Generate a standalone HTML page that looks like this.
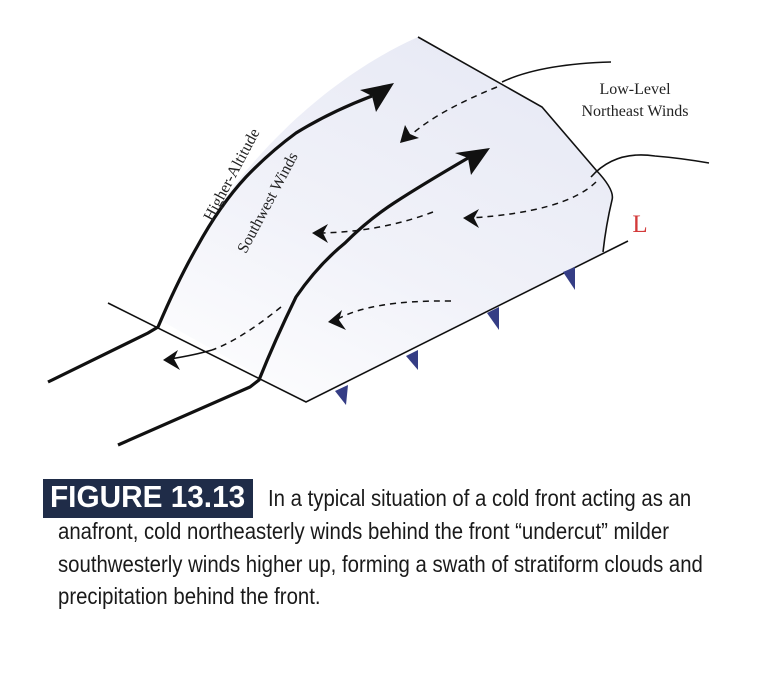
<!DOCTYPE html>
<html><head><meta charset="utf-8"><style>
html,body{margin:0;padding:0;background:#fff;}
body{width:768px;height:688px;position:relative;overflow:hidden;}
svg{position:absolute;left:0;top:0;}
.cap{position:absolute;font-family:"Liberation Sans",sans-serif;font-size:23px;color:#1a1a1a;white-space:nowrap;transform-origin:0 0;transform:scaleX(0.885);}
.box{position:absolute;left:43px;top:479px;width:210px;height:39px;background:#1f2c48;}
.fig{position:absolute;left:50px;top:479px;font-family:"Liberation Sans",sans-serif;font-weight:bold;font-size:31px;color:#fff;white-space:nowrap;transform-origin:0 0;transform:scaleX(0.96);}
</style></head><body>
<svg width="768" height="688" viewBox="0 0 768 688">
<defs>
<linearGradient id="g" x1="0" y1="1" x2="0.6" y2="0">
<stop offset="0" stop-color="#fff"/><stop offset="0.5" stop-color="#f1f2f9"/><stop offset="1" stop-color="#e8eaf5"/>
</linearGradient>
</defs>
<path d="M160,320 L197,247 C215,200 300,90 418,37 L542,107 L596,170 L613,193 C606,220 605,240 603,252 L628,241 L306,402 Z" fill="url(#g)"/>
<g fill="none" stroke="#111" stroke-width="1.6">
<path d="M418,37 L542,107 L596,170 Q615,190 612,200 Q606,225 603,252"/>
<path d="M628,241 L306,402 L108,303"/>
<path d="M502,82 Q540,64 611,62"/>
<path d="M591,177 Q615,150 655,156 Q680,158 709,163"/>
</g>
<g fill="none" stroke="#111" stroke-width="3.2">
<path d="M48,382 L148,333 L158,327 Q178,280 197,247 Q220,205 246,177 Q270,152 296,133 Q330,112 372,96"/>
<path d="M118,445 L250,387 L259,380 Q275,340 296,297 Q318,265 345,243 Q368,220 394,203 Q420,186 468,158"/>
</g>
<path d="M394,83 L360,90 L372,96 L376,112 Z" fill="#111"/>
<path d="M490,148 L455,153 L468,158 L471,175 Z" fill="#111"/>
<g fill="none" stroke="#111" stroke-width="1.5" stroke-dasharray="6,5">
<path d="M497,87 Q440,110 412,134"/>
<path d="M596,182 Q565,212 470,218"/>
<path d="M433,212 Q380,232 320,233"/>
<path d="M451,301 Q370,300 336,320"/>
<path d="M281,307 Q240,340 212,350"/>
</g>
<path d="M212,350 Q195,355 170,359" fill="none" stroke="#111" stroke-width="1.5"/>
<g fill="#111">
<path d="M400,143 L405,125 L410,134 L419,138 Z"/>
<path d="M463,218 L479,209 L474,218 L479,228 Z"/>
<path d="M312,233 L328,224 L323,233 L328,243 Z"/>
<path d="M328,322 L342,310 L339,320 L346,330 Z"/>
<path d="M163,360 L178,350 L174,359 L180,370 Z"/>
</g>
<g fill="#353d85">
<path d="M563,272 L575,267 L575,290 Z"/>
<path d="M487,313 L499,307 L499,330 Z"/>
<path d="M406,356 L418,350 L418,370 Z"/>
<path d="M335,391 L348,385 L346,405 Z"/>
</g>
<g font-family="Liberation Serif,serif" font-size="16" fill="#222">
<text x="236" y="177" text-anchor="middle" transform="rotate(-62 236 177)">Higher-Altitude</text>
<text x="272" y="205" text-anchor="middle" transform="rotate(-62 272 205)">Southwest Winds</text>
<text x="635" y="94" text-anchor="middle">Low-Level</text>
<text x="635" y="116" text-anchor="middle">Northeast Winds</text>
<text x="640" y="232" text-anchor="middle" font-size="25" fill="#d33a3a">L</text>
</g>
</svg>
<div class="box"></div>
<div class="fig">FIGURE 13.13</div>
<div class="cap" style="left:268px;top:485px;">In a typical situation of a cold front acting as an</div>
<div class="cap" style="left:58px;top:518px;">anafront, cold northeasterly winds behind the front “undercut” milder</div>
<div class="cap" style="left:58px;top:551px;">southwesterly winds higher up, forming a swath of stratiform clouds and</div>
<div class="cap" style="left:58px;top:583px;">precipitation behind the front.</div>
</body></html>
